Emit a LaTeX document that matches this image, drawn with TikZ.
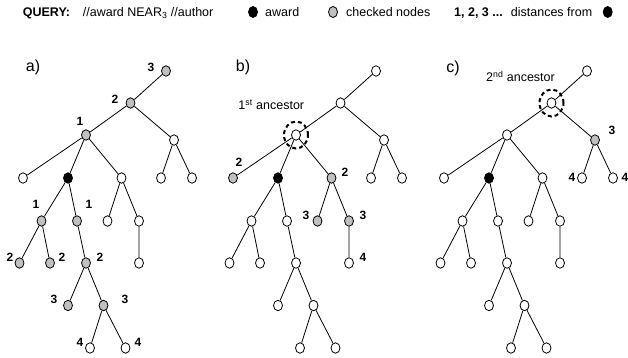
\documentclass[tikz,border=0pt]{standalone}
\usepackage{fontspec}
\setmainfont{Liberation Sans}
\usetikzlibrary{shapes.geometric}

\definecolor{chkgray}{RGB}{192,192,192}

\tikzset{
	tn/.style={draw, ellipse, minimum width=9pt, minimum height=10.5pt, inner sep=0pt, line width=0.8pt, fill=white},
	chk/.style={tn, fill=chkgray},
	awd/.style={tn, fill=black},
	edge/.style={line width=0.8pt},
	anc/.style={draw, ellipse, line width=2pt, dash pattern=on 4pt off 3pt, minimum width=24pt, minimum height=27pt, inner sep=0pt},
	dist/.style={font=\fontsize{12}{14}\selectfont\bfseries, inner sep=0pt},
	txt/.style={font=\fontsize{12.5}{15}\selectfont, inner sep=0pt},
	txtb/.style={font=\fontsize{12.5}{15}\selectfont\bfseries, inner sep=0pt},
	panel/.style={font=\fontsize{16}{18}\selectfont, inner sep=0pt},
}

\begin{document}
\begin{tikzpicture}[x=1pt, y=-1pt]
	\useasboundingbox (0,0) rectangle (628,358);
	% legend
	\node[txtb, anchor=base west] (qlab) at (22.7,17) {QUERY:};
	\node[txt, anchor=base west] (qexpr) at (82.7,17) {//award NEAR\textsubscript{3} //author};
	\node[awd, minimum height=11pt] (legawd) at (253,12) {};
	\node[txt, anchor=base west] (legawdtxt) at (265,17) {award};
	\node[chk, minimum height=11pt] (legchk) at (333,12) {};
	\node[txt, anchor=base west] (legchktxt) at (346,17) {checked nodes};
	\node[txtb, anchor=base west] (legnum) at (454,17) {1, 2, 3 ...};
	\node[txt, anchor=base west] (legdist) at (510.7,17) {distances from};
	\node[awd, minimum height=11pt] (legdistawd) at (607.7,12) {};

	% the three trees: name/x/y/style in a)/b)/c)
	\foreach \n/\x/\y/\sa/\sb/\sc in {
		root/166/71/chk/tn/tn,
		n2/130.5/103/chk/tn/tn,
		n1/86/135/chk/tn/tn,
		r/174/140/tn/tn/chk,
		r1/161/178/tn/tn/tn,
		r2/192/178/tn/tn/tn,
		L/23/178/tn/chk/tn,
		B/68/178/awd/awd/awd,
		M/121.5/178/tn/chk/tn,
		B1/41.5/221/chk/tn/tn,
		B2/77/221/chk/tn/tn,
		M1/107.5/221/tn/chk/tn,
		M2/139/221/tn/chk/tn,
		M3/139/263/tn/tn/tn,
		B11/19.5/263/chk/tn/tn,
		B12/50/263/chk/tn/tn,
		B21/86/263/chk/tn/tn,
		B211/68/305.5/chk/tn/tn,
		B212/103.5/305.5/chk/tn/tn,
		D1/90/348/tn/tn/tn,
		D2/125.5/348/tn/tn/tn}
	{
		\node[\sa] (a\n) at (\x,\y) {};
		\node[\sb] (b\n) at (\x+210,\y) {};
		\node[\sc] (c\n) at (\x+421,\y) {};
	}
	\foreach \t in {a,b,c} {
		\draw[edge] (\t root) -- (\t n2) -- (\t n1);
		\draw[edge] (\t n2) -- (\t r);
		\draw[edge] (\t r) -- (\t r1);
		\draw[edge] (\t r) -- (\t r2);
		\draw[edge] (\t n1) -- (\t L);
		\draw[edge] (\t n1) -- (\t B);
		\draw[edge] (\t n1) -- (\t M);
		\draw[edge] (\t B) -- (\t B1);
		\draw[edge] (\t B) -- (\t B2);
		\draw[edge] (\t M) -- (\t M1);
		\draw[edge] (\t M) -- (\t M2) -- (\t M3);
		\draw[edge] (\t B1) -- (\t B11);
		\draw[edge] (\t B1) -- (\t B12);
		\draw[edge] (\t B2) -- (\t B21);
		\draw[edge] (\t B21) -- (\t B211);
		\draw[edge] (\t B21) -- (\t B212);
		\draw[edge] (\t B212) -- (\t D1);
		\draw[edge] (\t B212) -- (\t D2);
	}

	% a)
	\node[panel] (pa) at (33,67) {a)};
	\node[dist] (daroot) at (151,67) {3};
	\node[dist] (dan2) at (115,99) {2};
	\node[dist] (dan1) at (80,121) {1};
	\node[dist] (daB1) at (36,204) {1};
	\node[dist] (daB2) at (89,204) {1};
	\node[dist] (daB11) at (10,257) {2};
	\node[dist] (daB12) at (62,257) {2};
	\node[dist] (daB21) at (100,257) {2};
	\node[dist] (daB211) at (54,299) {3};
	\node[dist] (daB212) at (125,299) {3};
	\node[dist] (daD1) at (80,342) {4};
	\node[dist] (daD2) at (138,342) {4};

	% b)
	\node[panel] (pb) at (243,67) {b)};
	\node[anc] (bfirst) at (bn1) {};
	\node[txt, anchor=base] (bfirsttxt) at (271.3,110) {1\textsuperscript{st} ancestor};
	\node[dist] (dbL) at (239,162) {2};
	\node[dist] (dbM) at (345,172) {2};
	\node[dist] (dbM1) at (306,215) {3};
	\node[dist] (dbM2) at (363,215) {3};
	\node[dist] (dbM3) at (363,257) {4};

	% c)
	\node[panel] (pc) at (453,68) {c)};
	\node[anc] (csecond) at (cn2) {};
	\node[txt, anchor=base] (csecondtxt) at (520.5,82) {2\textsuperscript{nd} ancestor};
	\node[dist] (dcr) at (612,130) {3};
	\node[dist] (dcr1) at (572,177) {4};
	\node[dist] (dcr2) at (625,177) {4};
\end{tikzpicture}
\end{document}
